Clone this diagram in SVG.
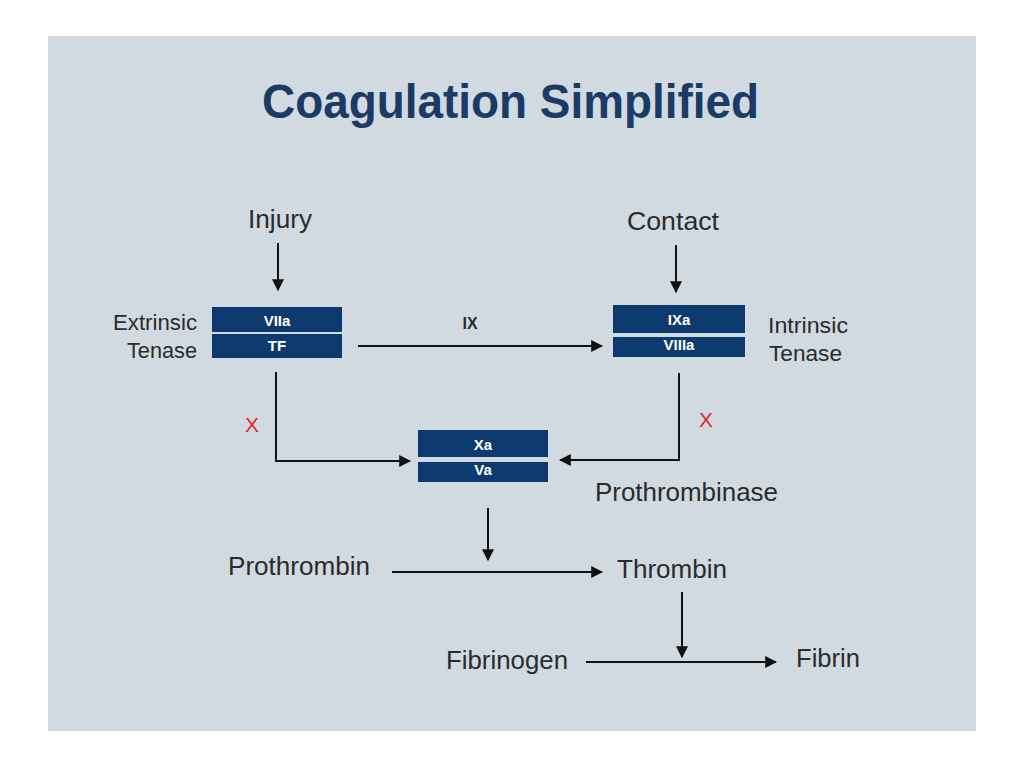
<svg xmlns="http://www.w3.org/2000/svg" width="1024" height="767" viewBox="0 0 1024 767">
<style>
.lbl{font-family:"Liberation Sans",Arial,sans-serif;font-size:25px;fill:#2b2b2b}
.sm{font-family:"Liberation Sans",Arial,sans-serif;font-size:22px;fill:#2b2b2b}
.bx{fill:#0d3a6e}
.bt{font-family:"Liberation Sans",Arial,sans-serif;font-size:15px;font-weight:bold;fill:#ffffff;text-anchor:middle}
.x{font-family:"Liberation Sans",Arial,sans-serif;font-size:21px;fill:#e0282a}
.c{stroke:#111;stroke-width:2;fill:none;marker-end:url(#ah)}
</style>
<defs>
<marker id="ah" viewBox="0 0 10 10" refX="9" refY="5" markerWidth="6" markerHeight="6" orient="auto" markerUnits="strokeWidth">
<path d="M0,0 L10,5 L0,10 z" fill="#111"/>
</marker>
</defs>
<rect x="0" y="0" width="1024" height="767" fill="#ffffff"/>
<rect x="48" y="36" width="928" height="695" fill="#d1d9e1"/>
<text x="262" y="118" textLength="497" lengthAdjust="spacingAndGlyphs" font-family="Liberation Sans,Arial,sans-serif" font-size="48" font-weight="bold" fill="#1b3a66">Coagulation Simplified</text>
<g id="injury"><text class="lbl" x="248" y="228" textLength="64" lengthAdjust="spacingAndGlyphs">Injury</text></g>
<g id="contact"><text class="lbl" x="627" y="230" textLength="92" lengthAdjust="spacingAndGlyphs">Contact</text></g>
<g id="extrinsic">
<text class="sm" x="113" y="330" textLength="84" lengthAdjust="spacingAndGlyphs">Extrinsic</text>
<text class="sm" x="127" y="358" textLength="70" lengthAdjust="spacingAndGlyphs">Tenase</text>
<rect class="bx" x="212" y="307" width="130" height="25"/>
<rect class="bx" x="212" y="334" width="130" height="24"/>
<text class="bt" x="277" y="326">VIIa</text>
<text class="bt" x="277" y="351">TF</text>
</g>
<g id="intrinsic">
<rect class="bx" x="613" y="305" width="132" height="28"/>
<rect class="bx" x="613" y="337" width="132" height="20"/>
<text class="bt" x="679" y="325">IXa</text>
<text class="bt" x="679" y="350">VIIIa</text>
<text class="sm" x="768" y="333" textLength="80" lengthAdjust="spacingAndGlyphs">Intrinsic</text>
<text class="sm" x="769" y="361" textLength="73" lengthAdjust="spacingAndGlyphs">Tenase</text>
</g>
<g id="prothrombinase">
<rect class="bx" x="418" y="430" width="130" height="27"/>
<rect class="bx" x="418" y="462" width="130" height="20"/>
<text class="bt" x="483" y="450">Xa</text>
<text class="bt" x="483" y="475">Va</text>
<text class="lbl" x="595" y="501" textLength="183" lengthAdjust="spacingAndGlyphs">Prothrombinase</text>
</g>
<g id="prothrombin"><text class="lbl" x="228" y="575" textLength="142" lengthAdjust="spacingAndGlyphs">Prothrombin</text></g>
<g id="thrombin"><text class="lbl" x="617" y="578" textLength="110" lengthAdjust="spacingAndGlyphs">Thrombin</text></g>
<g id="fibrinogen"><text class="lbl" x="446" y="669" textLength="122" lengthAdjust="spacingAndGlyphs">Fibrinogen</text></g>
<g id="fibrin"><text class="lbl" x="796" y="667" textLength="64" lengthAdjust="spacingAndGlyphs">Fibrin</text></g>
<g id="connectors">
<path class="c" d="M278,243 L278,290"/>
<path class="c" d="M676,245 L676,292"/>
<path class="c" d="M358,346 L602,346"/>
<text x="470" y="329" text-anchor="middle" font-family="Liberation Sans,Arial,sans-serif" font-size="16" font-weight="bold" fill="#2b2b2b">IX</text>
<path class="c" d="M276,372 L276,461 L410,461"/>
<text class="x" x="252" y="432" text-anchor="middle">X</text>
<path class="c" d="M679,373 L679,460 L560,460"/>
<text class="x" x="706" y="427" text-anchor="middle">X</text>
<path class="c" d="M488,508 L488,560"/>
<path class="c" d="M392,572 L602,572"/>
<path class="c" d="M682,592 L682,657"/>
<path class="c" d="M586,662 L776,662"/>
</g>
</svg>
